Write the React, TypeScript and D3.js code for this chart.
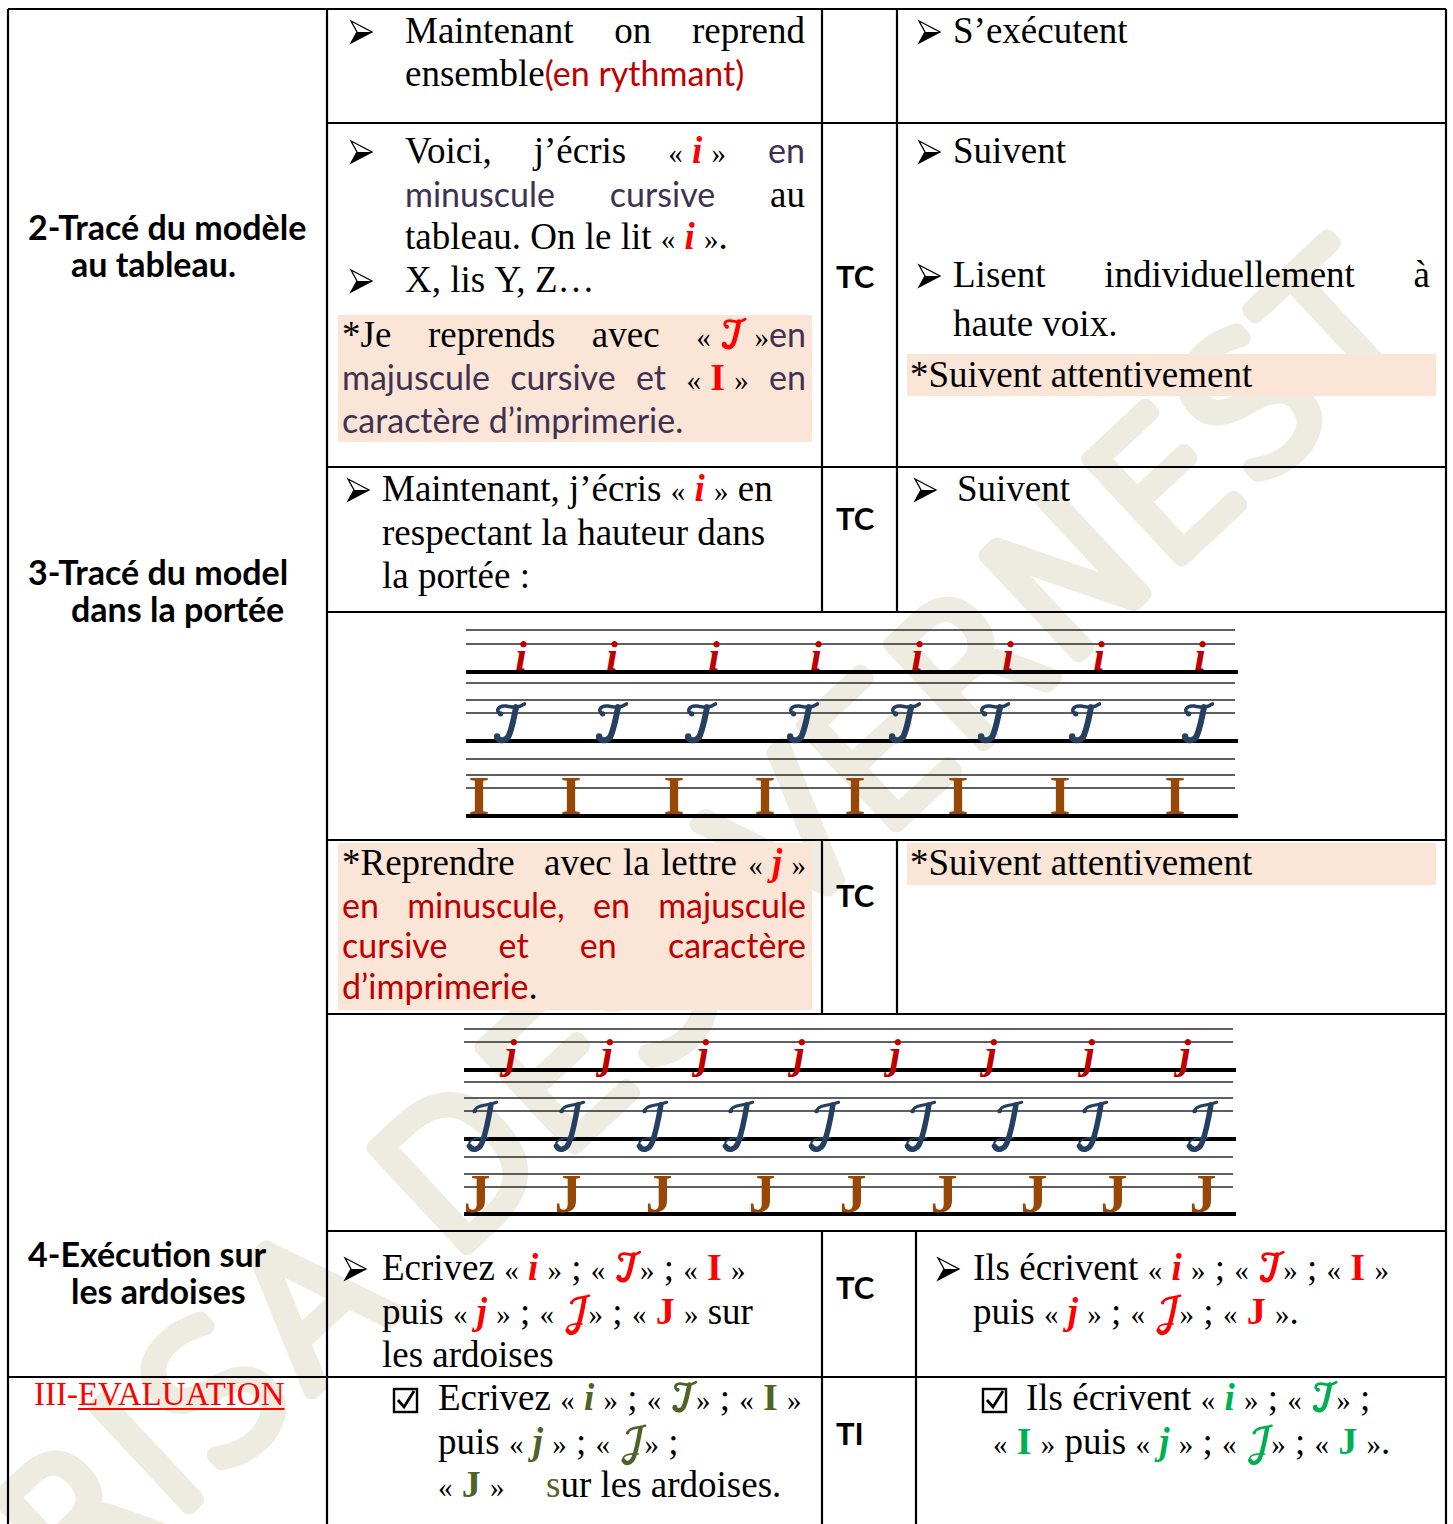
import React, { useEffect, useState } from 'react';
import * as d3 from 'd3';

const W = 1453;
const H = 1524;
const SERIF = "'Liberation Serif', 'Times New Roman', serif";
const SANS = "Lato, 'Open Sans', sans-serif";
const NB = '\u00A0';

// ---------- table grid (column and row borders)
const COLS_TOP = [8, 327, 822, 897, 1446];
const COL3_BOTTOM = 916;
const ROW_LINES = [123, 467, 612, 840, 1014, 1231];
const TOP_Y = 9;
const EVAL_Y = 1377;

// ---------- left column headings
const HEADINGS = [
  ['2-Tracé du modèle', 'au tableau.'],
  ['3-Tracé du model', 'dans la portée'],
  ['4-Exécution sur', 'les ardoises'],
];
const HEADING_Y = [240, 585, 1267];

// ---------- "TC / TI" column
const MODES = ['TC', 'TC', 'TC', 'TC', 'TI'];
const MODE_Y = [288, 530, 907, 1299, 1445];

// ---------- staffs: letters and their positions
const STAFF1_LETTERS = ['i', 'ℐ', 'I'];
const STAFF1_X = [
  [521, 612, 714, 816, 917, 1008, 1099, 1200],
  [508, 610, 699, 801, 903, 992, 1083, 1196],
  [479, 571, 674, 765, 855, 958, 1060, 1175],
];
const STAFF1_BASE = [670, 740, 814];
const STAFF1_LINES = [630, 644, 672, 683, 700, 713, 741, 759, 775, 788, 816];
const STAFF2_LETTERS = ['j', '𝒥', 'J'];
const STAFF2_X = [
  [511, 607, 703, 799, 895, 991, 1089, 1185],
  [480, 567, 650, 736, 822, 918, 1005, 1090, 1200],
  [477, 568, 659, 762, 853, 944, 1034, 1114, 1203],
];
const STAFF2_BASE = [1068, 1138, 1212];
const STAFF2_LINES = [1029, 1042, 1070, 1082, 1098, 1111, 1139, 1157, 1174, 1187, 1214];
const THICK = [2, 6, 10];

// ---------- shaded boxes
const SHADES = [
  [338, 315, 812, 442],
  [907, 354, 1436, 396],
  [338, 843, 812, 1010],
  [907, 843, 1436, 885],
];

// ---------- bullets
const ARROWS = [[351, 43], [919, 43], [351, 163], [919, 163], [351, 292], [919, 287], [348, 501], [915, 501], [345, 1280], [938, 1280]];
const BOXES = [[393, 1412], [982, 1412]];

// ---------- calligraphic capitals (unit = cap height, baseline at 0)
type Glyph = { w: number; strokes: { d: string; sw: number }[]; dots: number[][] };
const GLYPHS: Record<string, Glyph> = {
  'ℐ': {
    w: 0.82,
    strokes: [
      { d: 'M0.2,-0.74 C0.04,-0.82 0.12,-1.0 0.36,-0.97 C0.56,-0.94 0.68,-0.9 0.88,-1.03', sw: 0.1 },
      { d: 'M0.64,-0.94 C0.58,-0.62 0.51,-0.32 0.44,-0.14 C0.37,0.03 0.2,0.05 0.1,-0.06', sw: 0.17 },
    ],
    dots: [[0.2, -0.75, 0.075], [0.1, -0.1, 0.09]],
  },
  '𝒥': {
    w: 0.82,
    strokes: [
      { d: 'M0.26,-0.8 C0.3,-0.98 0.6,-0.95 0.9,-1.05', sw: 0.09 },
      { d: 'M0.73,-0.97 C0.66,-0.55 0.57,-0.12 0.47,0.14 C0.39,0.34 0.19,0.4 0.1,0.24', sw: 0.16 },
      { d: 'M0.1,0.24 C0.03,0.06 0.3,-0.03 0.64,0.0', sw: 0.06 },
    ],
    dots: [[0.25, -0.79, 0.065]],
  },
};

type Style = { f: string; s: number; c: string; w?: string | number; it?: boolean; u?: boolean; g?: boolean };
const ST: Record<string, Style> = {
  t: { f: SERIF, s: 37, c: '#000' },
  q: { f: SERIF, s: 29, c: '#000' },
  tO: { f: SERIF, s: 37, c: '#4F6228' },
  cr: { f: SANS, s: 34, c: '#C00000' },
  cp: { f: SANS, s: 34, c: '#403152' },
  iR: { f: SERIF, s: 37, c: '#FF0000', w: 'bold', it: true },
  sR: { f: '', s: 27, c: '#FF0000', g: true },
  IR: { f: SERIF, s: 38, c: '#FF0000', w: 'bold' },
  iO: { f: SERIF, s: 37, c: '#4F6228', w: 'bold', it: true },
  sO: { f: '', s: 27, c: '#4F6228', g: true },
  IO: { f: SERIF, s: 38, c: '#4F6228', w: 'bold' },
  iG: { f: SERIF, s: 37, c: '#00B050', w: 'bold', it: true },
  sG: { f: '', s: 27, c: '#00B050', g: true },
  IG: { f: SERIF, s: 38, c: '#00B050', w: 'bold' },
  ev: { f: SERIF, s: 33, c: '#FF0000' },
  evU: { f: SERIF, s: 33, c: '#FF0000', u: true },
};

type Run = [string, string];
type Line = { x: number; x2?: number; y: number; runs: Run[] };

const LINES: Line[] = [
  // row 1
  { x: 405, x2: 805, y: 43, runs: [['Maintenant on reprend', 't']] },
  { x: 405, y: 86, runs: [['ensemble', 't'], ['(en rythmant)', 'cr']] },
  { x: 953, y: 43, runs: [['S’exécutent', 't']] },
  // row 2
  { x: 405, x2: 805, y: 163, runs: [['Voici, j’écris «' + NB, 't'], ['i', 'iR'], [NB + '» ', 't'], ['en', 'cp']] },
  { x: 405, x2: 805, y: 207, runs: [['minuscule cursive ', 'cp'], ['au', 't']] },
  { x: 405, y: 249, runs: [['tableau. On le lit «' + NB, 't'], ['i', 'iR'], [NB + '».', 't']] },
  { x: 405, y: 292, runs: [['X, lis Y, Z…', 't']] },
  { x: 342, x2: 806, y: 347, runs: [['*Je reprends avec «' + NB, 't'], ['ℐ', 'sR'], [NB + '»', 't'], ['en', 'cp']] },
  { x: 342, x2: 806, y: 390, runs: [['majuscule cursive et ', 'cp'], ['«' + NB, 't'], ['I', 'IR'], [NB + '» ', 't'], ['en', 'cp']] },
  { x: 342, y: 433, runs: [['caractère d’imprimerie.', 'cp']] },
  { x: 953, y: 163, runs: [['Suivent', 't']] },
  { x: 953, x2: 1430, y: 287, runs: [['Lisent individuellement à', 't']] },
  { x: 953, y: 336, runs: [['haute voix.', 't']] },
  { x: 910, y: 387, runs: [['*Suivent attentivement', 't']] },
  // row 3
  { x: 382, y: 501, runs: [['Maintenant, j’écris «' + NB, 't'], ['i', 'iR'], [NB + '» en', 't']] },
  { x: 382, y: 545, runs: [['respectant la hauteur dans', 't']] },
  { x: 382, y: 588, runs: [['la portée :', 't']] },
  { x: 957, y: 501, runs: [['Suivent', 't']] },
  // row 5
  { x: 342, y: 875, runs: [['*Reprendre', 't']] },
  { x: 544, x2: 806, y: 875, runs: [['avec la lettre «' + NB, 't'], ['j', 'iR'], [NB + '»', 't']] },
  { x: 342, x2: 806, y: 918, runs: [['en minuscule, en majuscule', 'cr']] },
  { x: 342, x2: 806, y: 958, runs: [['cursive et en caractère', 'cr']] },
  { x: 342, y: 999, runs: [['d’imprimerie', 'cr'], ['.', 't']] },
  { x: 910, y: 875, runs: [['*Suivent attentivement', 't']] },
  // row 7
  { x: 382, y: 1280, runs: [['Ecrivez « ', 't'], ['i', 'iR'], [' » ; « ', 't'], ['ℐ', 'sR'], ['» ; « ', 't'], ['I', 'IR'], [' »', 't']] },
  { x: 382, y: 1324, runs: [['puis « ', 't'], ['j', 'iR'], [' » ; « ', 't'], ['𝒥', 'sR'], ['» ; « ', 't'], ['J', 'IR'], [' » sur', 't']] },
  { x: 382, y: 1367, runs: [['les ardoises', 't']] },
  { x: 973, y: 1280, runs: [['Ils écrivent « ', 't'], ['i', 'iR'], [' » ; « ', 't'], ['ℐ', 'sR'], ['» ; « ', 't'], ['I', 'IR'], [' »', 't']] },
  { x: 973, y: 1324, runs: [['puis « ', 't'], ['j', 'iR'], [' » ; « ', 't'], ['𝒥', 'sR'], ['» ; « ', 't'], ['J', 'IR'], [' ».', 't']] },
  // row 8
  { x: 34, y: 1405, runs: [['III-', 'ev'], ['EVALUATION', 'evU']] },
  { x: 438, y: 1410, runs: [['Ecrivez « ', 't'], ['i', 'iO'], [' » ; « ', 't'], ['ℐ', 'sO'], ['» ; « ', 't'], ['I', 'IO'], [' »', 't']] },
  { x: 438, y: 1454, runs: [['puis « ', 't'], ['j', 'iO'], [' » ; « ', 't'], ['𝒥', 'sO'], ['» ;', 't']] },
  { x: 438, y: 1497, runs: [['« ', 't'], ['J', 'IO'], [' »', 't']] },
  { x: 546, y: 1497, runs: [['s', 'tO'], ['ur les ardoises.', 't']] },
  { x: 1026, y: 1410, runs: [['Ils écrivent « ', 't'], ['i', 'iG'], [' » ; « ', 't'], ['ℐ', 'sG'], ['» ;', 't']] },
  { x: 993, y: 1454, runs: [['« ', 't'], ['I', 'IG'], [' » puis « ', 't'], ['j', 'iG'], [' » ; « ', 't'], ['𝒥', 'sG'], ['» ; « ', 't'], ['J', 'IG'], [' ».', 't']] },
];

// ---------- text measuring
let ctx: CanvasRenderingContext2D | null = null;
function fontStr(st: Style) {
  return `${st.it ? 'italic' : 'normal'} ${st.w || 'normal'} ${st.s}px ${st.f}`;
}
function measure(t: string, st: Style) {
  if (st.g) return (GLYPHS[t] ? GLYPHS[t].w + 0.12 : 0.8) * st.s;
  if (!ctx) ctx = document.createElement('canvas').getContext('2d');
  ctx!.font = fontStr(st);
  return ctx!.measureText(t).width;
}

type Piece = { x: number; y: number; t: string; st: Style; w: number };
function layoutLine(line: Line): Piece[] {
  // guillemets are set smaller than the body text
  const runs: Run[] = [];
  for (const [t, k] of line.runs) {
    if (k !== 't') {
      runs.push([t, k]);
      continue;
    }
    t.split(/([«»])/).forEach((p) => {
      if (p) runs.push([p, p === '«' || p === '»' ? 'q' : 't']);
    });
  }
  const words: { t: string; k: string }[][] = [[]];
  const gaps: number[] = [];
  const gapKey: string[] = [];
  for (const [t, k] of runs) {
    const parts = t.split(' ');
    parts.forEach((p, i) => {
      if (i > 0) {
        const cur = words[words.length - 1];
        if (cur.length === 0) {
          if (words.length > 1) gaps[gaps.length - 1] += 1;
        } else {
          words.push([]);
          gaps.push(1);
          gapKey.push(ST[k].g || k === 'q' ? 't' : k);
        }
      }
      if (p) words[words.length - 1].push({ t: p, k });
    });
  }
  if (words[words.length - 1].length === 0) {
    words.pop();
    gaps.pop();
    gapKey.pop();
  }
  const widths = words.map((wd) => wd.reduce((s, r) => s + measure(r.t, ST[r.k]), 0));
  const total = d3.sum(widths);
  const n = words.length - 1;
  const gapW = gaps.map((g, i) =>
    line.x2 !== undefined && n > 0 ? (line.x2 - line.x - total) / n : g * measure(' ', ST[gapKey[i]])
  );
  const out: Piece[] = [];
  let x = line.x;
  words.forEach((wd, i) => {
    if (i > 0) x += gapW[i - 1];
    for (const r of wd) {
      const st = ST[r.k];
      const w = measure(r.t, st);
      out.push({ x, y: line.y, t: r.t, st, w });
      x += w;
    }
  });
  return out;
}

const xs = d3.scaleIdentity();
const ys = d3.scaleIdentity();

function ScriptGlyph({ ch, x, y, s, c }: { ch: string; x: number; y: number; s: number; c: string }) {
  const g = GLYPHS[ch];
  return (
    <g transform={`translate(${x},${y}) scale(${s})`}>
      {g.strokes.map((p, i) => (
        <path key={i} d={p.d} fill="none" stroke={c} strokeWidth={p.sw} strokeLinecap="round" strokeLinejoin="round" />
      ))}
      {g.dots.map(([cx, cy, r], i) => (
        <circle key={'d' + i} cx={cx} cy={cy} r={r} fill={c} />
      ))}
    </g>
  );
}

function Arrow({ x, y }: { x: number; y: number }) {
  const top: [number, number] = [x, y - 22];
  const tip: [number, number] = [x + 21, y - 11];
  const bot: [number, number] = [x, y];
  const notch: [number, number] = [x + 6, y - 11];
  const outline = d3.line()([top, tip, bot, notch, top]) + 'Z';
  const lower = d3.line()([notch, tip, bot]) + 'Z';
  return (
    <g>
      <path d={outline} fill="#fff" stroke="#000" strokeWidth={1.3} strokeLinejoin="miter" />
      <path d={lower} fill="#000" />
    </g>
  );
}

function CheckBox({ x, y }: { x: number; y: number }) {
  return (
    <g>
      <rect x={x + 1} y={y - 23} width={23} height={23} fill="none" stroke="#000" strokeWidth={2.4} />
      <path d={`M${x + 5},${y - 12} L${x + 11},${y - 5} L${x + 21},${y - 21}`} fill="none" stroke="#000" strokeWidth={2.8} />
    </g>
  );
}

function Staff({ letters, xsList, bases, lines, x0, x1, styles }: any) {
  return (
    <g>
      {lines.map((y: number, i: number) => (
        <line key={'l' + i} x1={xs(x0)} x2={xs(x1 + (THICK.includes(i) ? 3 : 0))} y1={ys(y)} y2={ys(y)}
          stroke={THICK.includes(i) ? '#000' : '#2a2a2a'} strokeWidth={THICK.includes(i) ? 4 : 1.6} />
      ))}
      {letters.map((L: string, r: number) =>
        xsList[r].map((x: number, k: number) => {
          const st = styles[r];
          if (st.g) {
            const g = GLYPHS[L];
            return <ScriptGlyph key={r + '-' + k} ch={L} x={xs(x) - (g.w * st.s) / 2} y={ys(bases[r])} s={st.s} c={st.c} />;
          }
          return (
            <text key={r + '-' + k} x={xs(x)} y={ys(bases[r])} textAnchor="middle"
              fontFamily={st.f} fontSize={st.s} fontWeight={st.w || 'normal'}
              fontStyle={st.it ? 'italic' : 'normal'} fill={st.c}>{L}</text>
          );
        })
      )}
    </g>
  );
}

export default function App() {
  const [, setTick] = useState(0);
  useEffect(() => {
    (document as any).fonts?.ready.then(() => setTick((t) => t + 1));
  }, []);
  const pieces = LINES.flatMap(layoutLine);

  const staff1Styles = [
    { f: SERIF, s: 42, c: '#C00000', w: 'bold', it: true },
    { g: true, s: 35, c: '#243F60' },
    { f: SERIF, s: 54, c: '#974806', w: 'bold' },
  ];
  const staff2Styles = [
    { f: SERIF, s: 42, c: '#C00000', w: 'bold', it: true },
    { g: true, s: 34, c: '#243F60' },
    { f: SERIF, s: 54, c: '#974806', w: 'bold' },
  ];

  const grid: [number, number, number, number][] = [
    [COLS_TOP[0], TOP_Y, COLS_TOP[4], TOP_Y],
    [COLS_TOP[0], TOP_Y, COLS_TOP[0], H],
    [COLS_TOP[4], TOP_Y, COLS_TOP[4], H],
    [COLS_TOP[1], TOP_Y, COLS_TOP[1], H],
    [COLS_TOP[2], TOP_Y, COLS_TOP[2], ROW_LINES[2]],
    [COLS_TOP[3], TOP_Y, COLS_TOP[3], ROW_LINES[2]],
    [COLS_TOP[2], ROW_LINES[3], COLS_TOP[2], ROW_LINES[4]],
    [COLS_TOP[3], ROW_LINES[3], COLS_TOP[3], ROW_LINES[4]],
    [COLS_TOP[2], ROW_LINES[5], COLS_TOP[2], H],
    [COL3_BOTTOM, ROW_LINES[5], COL3_BOTTOM, H],
    ...ROW_LINES.map((y) => [COLS_TOP[1], y, COLS_TOP[4], y] as [number, number, number, number]),
    [COLS_TOP[0], EVAL_Y, COLS_TOP[4], EVAL_Y],
  ];

  const wmColor = '#EEECE0';

  return (
    <div style={{ position: 'absolute', left: 0, top: 0 }}>
      <svg width={W} height={H} viewBox={`0 0 ${W} ${H}`} style={{ display: 'block' }}>
        <rect width={W} height={H} fill="#fff" />
        {/* watermark (behind the shaded boxes) */}
        <g fill={wmColor} stroke={wmColor} strokeWidth={17} strokeLinejoin="round" strokeLinecap="round"
          fontFamily="'DejaVu Sans', sans-serif" fontWeight={200} fontSize={185}>
          <text transform="translate(75,1612) rotate(-43)" textLength={900} lengthAdjust="spacing">RISA DES</text>
          <text transform="translate(786,927) rotate(-43)" textLength={870} lengthAdjust="spacing">VERNEST</text>
        </g>
        {SHADES.map(([a, b, c, d], i) => (
          <rect key={i} x={xs(a)} y={ys(b)} width={c - a} height={d - b} fill="#FBE5D6" />
        ))}
        {/* headings */}
        {HEADINGS.map((h, i) => (
          <g key={i} fontFamily={SANS} fontWeight="bold" fontSize={34} fill="#000">
            <text x={28} y={HEADING_Y[i]}>{h[0]}</text>
            <text x={71} y={HEADING_Y[i] + 37}>{h[1]}</text>
          </g>
        ))}
        {MODES.map((m, i) => (
          <text key={i} x={836} y={MODE_Y[i]} fontFamily={SANS} fontWeight="bold" fontSize={31}>{m}</text>
        ))}
        {ARROWS.map(([x, y], i) => (
          <Arrow key={i} x={x} y={y} />
        ))}
        {BOXES.map(([x, y], i) => (
          <CheckBox key={i} x={x} y={y} />
        ))}
        {pieces.map((p, i) =>
          p.st.g ? (
            <ScriptGlyph key={i} ch={p.t} x={p.x + 0.06 * p.st.s} y={p.y} s={p.st.s} c={p.st.c} />
          ) : (
            <g key={i}>
              <text x={p.x} y={p.y} fontFamily={p.st.f} fontSize={p.st.s} fontWeight={p.st.w || 'normal'}
                fontStyle={p.st.it ? 'italic' : 'normal'} fill={p.st.c} style={{ whiteSpace: 'pre' }}>{p.t}</text>
              {p.st.u && <line x1={p.x} x2={p.x + p.w} y1={p.y + 4} y2={p.y + 4} stroke={p.st.c} strokeWidth={2} />}
            </g>
          )
        )}
        <Staff letters={STAFF1_LETTERS} xsList={STAFF1_X} bases={STAFF1_BASE} lines={STAFF1_LINES}
          x0={466} x1={1235} styles={staff1Styles} />
        <Staff letters={STAFF2_LETTERS} xsList={STAFF2_X} bases={STAFF2_BASE} lines={STAFF2_LINES}
          x0={464} x1={1233} styles={staff2Styles} />
        {grid.map(([a, b, c, d], i) => (
          <line key={i} x1={a} y1={b} x2={c} y2={d} stroke="#000" strokeWidth={2.2} />
        ))}
      </svg>
    </div>
  );
}
